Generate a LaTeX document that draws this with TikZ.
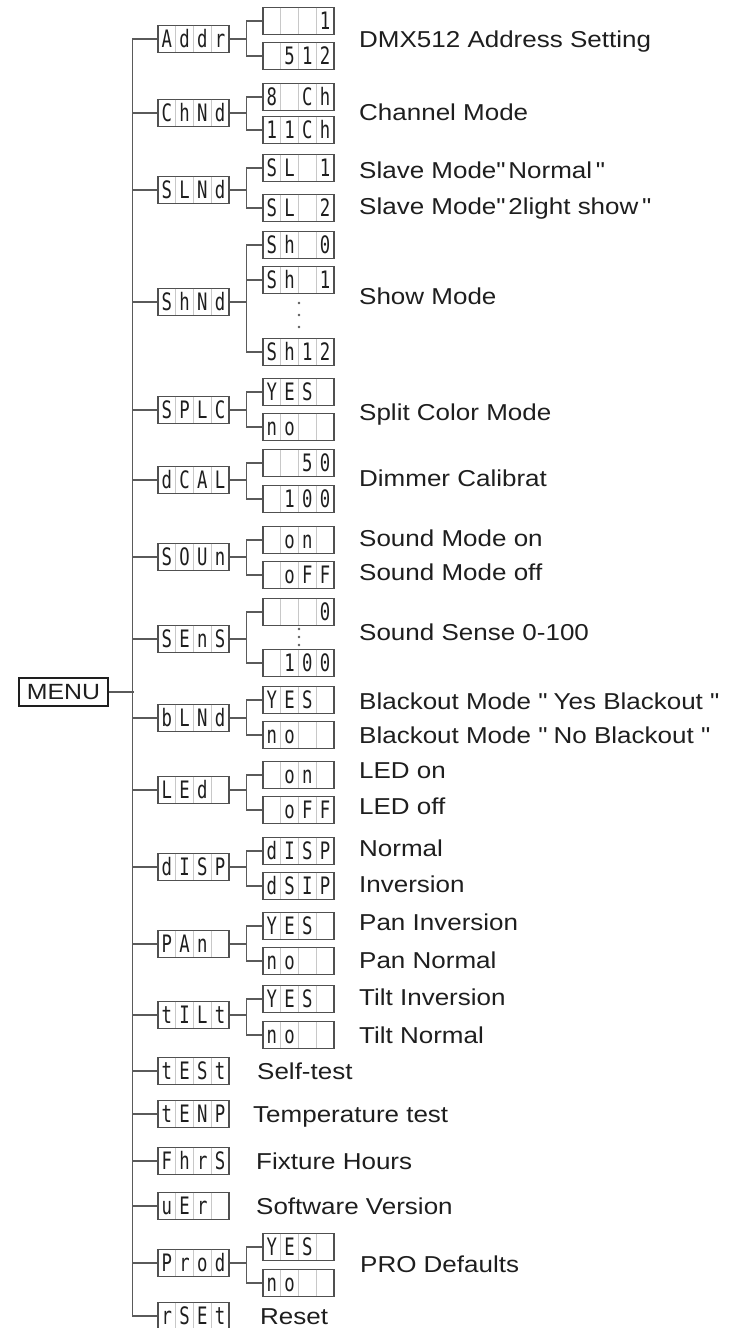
\documentclass[tikz,border=0pt]{standalone}
\usepackage{fontspec}
\setmainfont{Liberation Sans}[FakeStretch=1.13]
\newfontfamily\lcdfamily{DejaVu Sans Mono}[FakeStretch=0.72]
\usetikzlibrary{calc,positioning}
\definecolor{wiregray}{HTML}{5A5A5A}
\definecolor{lcdedge}{HTML}{505050}
\definecolor{cellgray}{HTML}{C8C8C8}
\definecolor{inkgray}{HTML}{1E1E1E}
\newcommand{\qm}{\textquotedbl}
% four-cell display: name, centre, four characters
\newcommand{\segdisp}[6]{%
  \node[lcd] (#1) at (#2) {};
  \foreach \k in {1,2,3}
    \draw[celldiv] ($(#1.north west)!\k/4!(#1.north east)$) -- ($(#1.south west)!\k/4!(#1.south east)$);
  \node[lcdchar] (#1-a) at ($(#1.center)+(-26.6,8.5)$) {#3};
  \node[lcdchar] (#1-b) at ($(#1.center)+(-8.9,8.5)$) {#4};
  \node[lcdchar] (#1-c) at ($(#1.center)+(8.9,8.5)$) {#5};
  \node[lcdchar] (#1-d) at ($(#1.center)+(26.6,8.5)$) {#6};
}

\begin{document}
\begin{tikzpicture}[x=1pt, y=-1pt,
    lcd/.style={draw=lcdedge, line width=1.1pt, minimum width=71pt, minimum height=27pt, inner sep=0pt},
    celldiv/.style={draw=cellgray, line width=0.8pt, shorten <=0.6pt, shorten >=0.6pt},
    lcdchar/.style={font=\lcdfamily\fontsize{24}{24}\selectfont, text=inkgray, inner sep=0pt, anchor=base},
    wire/.style={draw=wiregray, line width=1.3pt},
    desc/.style={font=\fontsize{23}{26}\selectfont, text=inkgray, inner sep=0pt, anchor=base west},
    menubox/.style={draw=inkgray, line width=1.1pt, minimum width=89pt, minimum height=28pt, inner sep=0pt, font=\fontsize{22}{24}\selectfont, text=inkgray}
]
\useasboundingbox (0,0) rectangle (736,1328);

% MENU root
\node[menubox] (menu) at (63.5,692) {MENU};

% Menu items
\segdisp{addr}{193.5,39}{A}{d}{d}{r}
\segdisp{chnd}{193.5,113}{C}{h}{N}{d}
\segdisp{slnd}{193.5,190}{S}{L}{N}{d}
\segdisp{shnd}{193.5,302}{S}{h}{N}{d}
\segdisp{splc}{193.5,410}{S}{P}{L}{C}
\segdisp{dcal}{193.5,480}{d}{C}{A}{L}
\segdisp{soun}{193.5,557}{S}{O}{U}{n}
\segdisp{sens}{193.5,639}{S}{E}{n}{S}
\segdisp{blnd}{193.5,718}{b}{L}{N}{d}
\segdisp{led}{193.5,790}{L}{E}{d}{}
\segdisp{disp}{193.5,867}{d}{I}{S}{P}
\segdisp{pan}{193.5,944}{P}{A}{n}{}
\segdisp{tilt}{193.5,1015}{t}{I}{L}{t}
\segdisp{test}{193.5,1071}{t}{E}{S}{t}
\segdisp{tenp}{193.5,1114}{t}{E}{N}{P}
\segdisp{fhrs}{193.5,1161}{F}{h}{r}{S}
\segdisp{uer}{193.5,1206}{u}{E}{r}{}
\segdisp{prod}{193.5,1263}{P}{r}{o}{d}
\segdisp{rset}{193.5,1316}{r}{S}{E}{t}

% Sub settings
\segdisp{addr-1}{298.5,21}{}{}{}{1}
\segdisp{addr-2}{298.5,56}{}{5}{1}{2}
\segdisp{chnd-1}{298.5,97}{8}{}{C}{h}
\segdisp{chnd-2}{298.5,130}{1}{1}{C}{h}
\segdisp{slnd-1}{298.5,168}{S}{L}{}{1}
\segdisp{slnd-2}{298.5,208}{S}{L}{}{2}
\segdisp{shnd-1}{298.5,245}{S}{h}{}{0}
\segdisp{shnd-2}{298.5,280}{S}{h}{}{1}
\segdisp{shnd-3}{298.5,352}{S}{h}{1}{2}
\segdisp{splc-1}{298.5,392}{Y}{E}{S}{}
\segdisp{splc-2}{298.5,427}{n}{o}{}{}
\segdisp{dcal-1}{298.5,463}{}{}{5}{0}
\segdisp{dcal-2}{298.5,499}{}{1}{0}{0}
\segdisp{soun-1}{298.5,540}{}{o}{n}{}
\segdisp{soun-2}{298.5,575}{}{o}{F}{F}
\segdisp{sens-1}{298.5,612}{}{}{}{0}
\segdisp{sens-2}{298.5,663}{}{1}{0}{0}
\segdisp{blnd-1}{298.5,700}{Y}{E}{S}{}
\segdisp{blnd-2}{298.5,735}{n}{o}{}{}
\segdisp{led-1}{298.5,775}{}{o}{n}{}
\segdisp{led-2}{298.5,810}{}{o}{F}{F}
\segdisp{disp-1}{298.5,851}{d}{I}{S}{P}
\segdisp{disp-2}{298.5,886}{d}{S}{I}{P}
\segdisp{pan-1}{298.5,926}{Y}{E}{S}{}
\segdisp{pan-2}{298.5,961}{n}{o}{}{}
\segdisp{tilt-1}{298.5,999}{Y}{E}{S}{}
\segdisp{tilt-2}{298.5,1035}{n}{o}{}{}
\segdisp{prod-1}{298.5,1247}{Y}{E}{S}{}
\segdisp{prod-2}{298.5,1283}{n}{o}{}{}

% Gaps in the ranges
\foreach \yy in {303,315,327} \fill[wiregray] (299,\yy) circle (1.4pt);
\foreach \yy in {629,637,645} \fill[wiregray] (299,\yy) circle (1.3pt);

% Trunk
\draw[wire] (menu.east) -- ++(25,0);
\draw[wire] (addr.west) -- ++(-25,0) |- (rset.west);
\foreach \n in {chnd,slnd,shnd,splc,dcal,soun,sens,blnd,led,disp,pan,tilt,test,tenp,fhrs,uer,prod}
  \draw[wire] (\n.west) -- ++(-25,0);

% Branches to sub settings
\foreach \n/\s in {addr/addr-1,addr/addr-2,chnd/chnd-1,chnd/chnd-2,slnd/slnd-1,slnd/slnd-2,
    shnd/shnd-1,shnd/shnd-2,shnd/shnd-3,splc/splc-1,splc/splc-2,dcal/dcal-1,dcal/dcal-2,
    soun/soun-1,soun/soun-2,sens/sens-1,sens/sens-2,blnd/blnd-1,blnd/blnd-2,led/led-1,led/led-2,
    disp/disp-1,disp/disp-2,pan/pan-1,pan/pan-2,tilt/tilt-1,tilt/tilt-2,prod/prod-1,prod/prod-2}
  \draw[wire] (\n.east) -- ++(17,0) |- (\s.west);

% Descriptions
\node[desc] (addr-txt) at (359,47) {DMX512 Address Setting};
\node[desc] (chnd-txt) at (359,120) {Channel Mode};
\node[desc] (slnd-txt1) at (359,178) {Slave Mode\qm\,Normal\,\qm};
\node[desc] (slnd-txt2) at (359,214) {Slave Mode\qm\,2light show\,\qm};
\node[desc] (shnd-txt) at (359,304) {Show Mode};
\node[desc] (splc-txt) at (359,420) {Split Color Mode};
\node[desc] (dcal-txt) at (359,486) {Dimmer Calibrat};
\node[desc] (soun-txt1) at (359,546) {Sound Mode on};
\node[desc] (soun-txt2) at (359,580) {Sound Mode off};
\node[desc] (sens-txt) at (359,640) {Sound Sense 0-100};
\node[desc] (blnd-txt1) at (359,709) {Blackout Mode \qm\ Yes Blackout \qm};
\node[desc] (blnd-txt2) at (359,743) {Blackout Mode \qm\ No Blackout \qm};
\node[desc] (led-txt1) at (359,778) {LED on};
\node[desc] (led-txt2) at (359,814) {LED off};
\node[desc] (disp-txt1) at (359,856) {Normal};
\node[desc] (disp-txt2) at (359,892) {Inversion};
\node[desc] (pan-txt1) at (359,930) {Pan Inversion};
\node[desc] (pan-txt2) at (359,968) {Pan Normal};
\node[desc] (tilt-txt1) at (359,1005) {Tilt Inversion};
\node[desc] (tilt-txt2) at (359,1043) {Tilt Normal};
\node[desc] (test-txt) at (257,1079) {Self-test};
\node[desc] (tenp-txt) at (253,1122) {Temperature test};
\node[desc] (fhrs-txt) at (256,1169) {Fixture Hours};
\node[desc] (uer-txt) at (256,1214) {Software Version};
\node[desc] (prod-txt) at (360,1272) {PRO Defaults};
\node[desc] (rset-txt) at (260,1324) {Reset};
\end{tikzpicture}
\end{document}
